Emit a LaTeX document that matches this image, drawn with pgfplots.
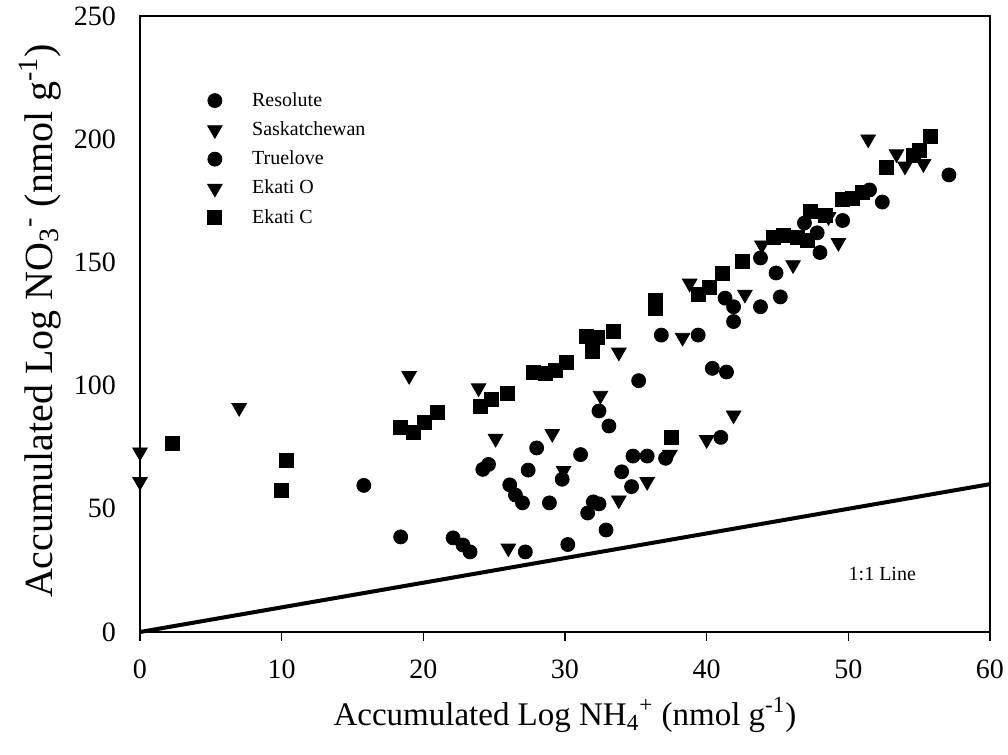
\documentclass[border=0pt]{standalone}
\usepackage{pgfplots}
\pgfplotsset{compat=1.18}
\usepackage{fontspec}
\setmainfont{Liberation Serif}
\begin{document}
\begin{tikzpicture}
\useasboundingbox (-70pt,-61.5pt) rectangle (434pt,316pt);
\begin{axis}[
  at={(0,0)}, anchor=south west,
  scale only axis, width=425pt, height=308pt,
  xmin=0, xmax=60, ymin=0, ymax=250,
  xtick={0,10,...,60}, ytick={0,50,...,250},
  tick align=outside,
  xtick pos=bottom, ytick pos=left,
  major tick length=4.5pt,
  y tick style={draw=none},
  axis line style={line width=0.8pt},
  tick style={line width=0.8pt, black},
  /pgf/number format/assume math mode=true,
  ticklabel style={font=\fontsize{14}{16}\selectfont},
  xticklabel style={yshift=-6pt},
  yticklabel style={xshift=-4pt},
  xlabel={Accumulated Log NH\textsubscript{4}\textsuperscript{+} (nmol g\textsuperscript{-1})},
  ylabel={Accumulated Log NO\textsubscript{3}\textsuperscript{-} (nmol g\textsuperscript{-1})},
  xlabel style={font=\fontsize{16.5}{20}\selectfont, at={(axis description cs:0.5,-0.135)}, anchor=center},
  ylabel style={font=\fontsize{20}{24}\selectfont, at={(axis description cs:-0.118,0.505)}, anchor=center, rotate=0},
  legend style={at={(0.072,0.89)}, anchor=north west, draw=none, fill=none,
    font=\fontsize{10}{12}\selectfont, row sep=2.2pt, legend cell align=left,
    /tikz/every odd column/.append style={column sep=13pt}},
  clip=false,
]
\addplot[only marks, mark=*, mark size=3.5pt, black] coordinates {
(15.8,59.5) (18.4,38.6) (22.1,38.2) (22.8,35.3) (23.3,32.5) (24.2,66) (24.6,68)
(26.1,59.7) (26.5,55.6) (27,52.4) (27.2,32.5) (27.4,65.7) (28,74.7) (28.9,52.4)
(29.8,62) (30.2,35.5) (31.1,72) (31.6,48.3) (32,52.8) (32.4,52) (32.9,41.4)
(34.7,59) (37.1,70.5)
};
\addlegendentry{Resolute}
\addplot[only marks, mark=triangle*, mark size=4.2pt, mark options={rotate=180}, black] coordinates {
(0,73) (0,61) (7,91) (19,104) (23.9,99) (25.1,78.5) (26,34) (29.1,80.5) (29.9,65.5)
(32.5,96) (33.8,113.5) (33.8,53.5) (35.8,61)
};
\addlegendentry{Saskatchewan}
\addplot[only marks, mark=*, mark size=3.5pt, black] coordinates {
(32.4,89.7) (33.1,83.6) (34,65) (34.8,71.4) (35.2,102) (35.8,71.4) (36.8,120.5)
(39.4,120.5) (40.4,107) (41.4,105.5) (41,79) (41.3,135.5) (41.9,132) (41.9,126)
(43.8,132) (43.8,151.8) (44.9,145.7) (45.2,136) (46.9,166) (47.8,162) (48,154)
(49.6,167) (51.5,179.4) (52.4,174.5) (57.1,185.5)
};
\addlegendentry{Truelove}
\addplot[only marks, mark=triangle*, mark size=4.2pt, mark options={rotate=180}, black] coordinates {
(37.4,72) (38.3,119.5) (38.8,141.5) (40,78) (41.9,88) (42.7,137) (43.9,157)
(46.1,149) (48.6,168.5) (49.3,158) (51.4,200) (53.4,194) (54,189) (55.3,190)
};
\addlegendentry{Ekati O}
\addplot[only marks, mark=square*, mark size=3.5pt, black] coordinates {
(2.3,76.5) (10.3,69.5) (10,57.5) (18.4,83) (19.3,81) (20.1,85) (21,89)
(24,91.5) (24.8,94.5) (25.9,97) (27.8,105.5) (28.6,105) (29.3,106) (30.1,109.5)
(31.5,120) (31.9,114) (32.3,119.5) (33.4,122) (36.4,131.5) (36.4,134.5) (37.5,79)
(39.4,137) (40.2,140) (41.1,145.5) (42.5,150.5) (44.7,160) (45.4,161) (46.4,160)
(47.1,159) (47.3,170.5) (48.4,169) (49.6,175.5) (50.3,176) (51,178.5) (52.7,188.5)
(54.6,193.5) (55,195.5) (55.8,201)
};
\addlegendentry{Ekati C}
\addplot[black, line width=2pt, no marks, forget plot] coordinates {(0,0) (60,60)};
\node[font=\fontsize{10}{12}\selectfont] at (axis cs:52.4,23.5) {1:1 Line};
\end{axis}
\end{tikzpicture}
\end{document}
